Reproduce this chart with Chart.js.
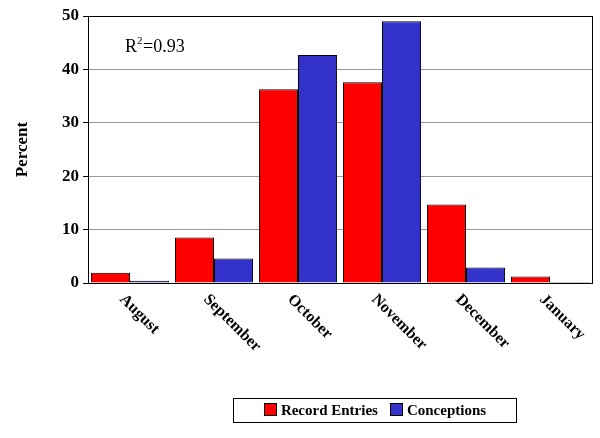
<!DOCTYPE html>
<html><head><meta charset="utf-8">
<script src="https://cdn.jsdelivr.net/npm/chart.js@4/dist/chart.umd.min.js"></script>
<style>
body{margin:0;background:#fff}
#wrap{position:relative;width:600px;height:438px}
#leg{position:absolute;left:233px;top:398px;width:284px;height:25px;border:1px solid #000;box-sizing:border-box;display:flex;align-items:center;justify-content:center;font:bold 15px "Liberation Serif",serif;gap:12px}
#leg span.b{display:inline-block;width:11px;height:11px;border:1px solid #000;margin-right:4px;vertical-align:-1px}
</style></head><body>
<div id="wrap"><canvas id="c" width="600" height="438"></canvas>
<div id="leg"><div><span class="b" style="background:#ff0000"></span>Record Entries</div><div><span class="b" style="background:#3333cc"></span>Conceptions</div></div></div>
<script>
const categories=["August","September","October","November","December","January"];
const recordEntries=[1.9,8.5,36.3,37.6,14.7,1.2];
const conceptions=[0.4,4.6,42.7,49.0,2.9,0.2];
const yTicks=[0,10,20,30,40,50];
const font='"Liberation Serif",serif';
const plug={id:'p',afterDraw(ch){
 const c=ch.ctx,x=ch.scales.x,a=ch.chartArea;
 c.save();c.fillStyle='#000';c.font='bold 16px '+font;
 categories.forEach((l,i)=>{const px=x.getPixelForTick(i);c.save();c.translate(px-8,a.bottom+14);c.rotate(Math.PI/4);c.textBaseline='middle';c.fillText(l,0,0);c.restore();});
 c.font='18px '+font;c.fillText('R',125,52);c.font='11px '+font;c.fillText('2',137,44);c.font='18px '+font;c.fillText('=0.93',143,52);
 c.strokeStyle='#000';c.lineWidth=1;c.strokeRect(a.left+0.5,a.top+0.5,a.right-a.left,a.bottom-a.top);
 c.restore();}};
new Chart(document.getElementById('c'),{type:'bar',
 data:{labels:categories,datasets:[
  {label:'Record Entries',data:recordEntries,backgroundColor:'#ff0000',borderColor:'#000',borderWidth:1},
  {label:'Conceptions',data:conceptions,backgroundColor:'#3333cc',borderColor:'#000',borderWidth:1}]},
 options:{responsive:false,animation:false,
  layout:{padding:{top:16,right:8,left:8}},
  plugins:{legend:{display:false},tooltip:{enabled:false}},
  datasets:{bar:{categoryPercentage:0.93,barPercentage:1}},
  scales:{
   x:{grid:{display:false},border:{color:'#000'},ticks:{callback:()=>''},afterFit:s=>{s.height=155;}},
   y:{min:0,max:50,afterBuildTicks:s=>{s.ticks=yTicks.map(v=>({value:v}));},
      grid:{color:'#999',drawTicks:true,tickLength:5,tickColor:'#000'},border:{color:'#000'},
      ticks:{color:'#000',font:{family:font,size:17,weight:'bold'},padding:4},
      title:{display:true,text:'Percent',color:'#000',font:{family:font,size:17,weight:'bold'}},
      afterFit:s=>{s.width=80;}}}},
 plugins:[plug]});
</script></body></html>
